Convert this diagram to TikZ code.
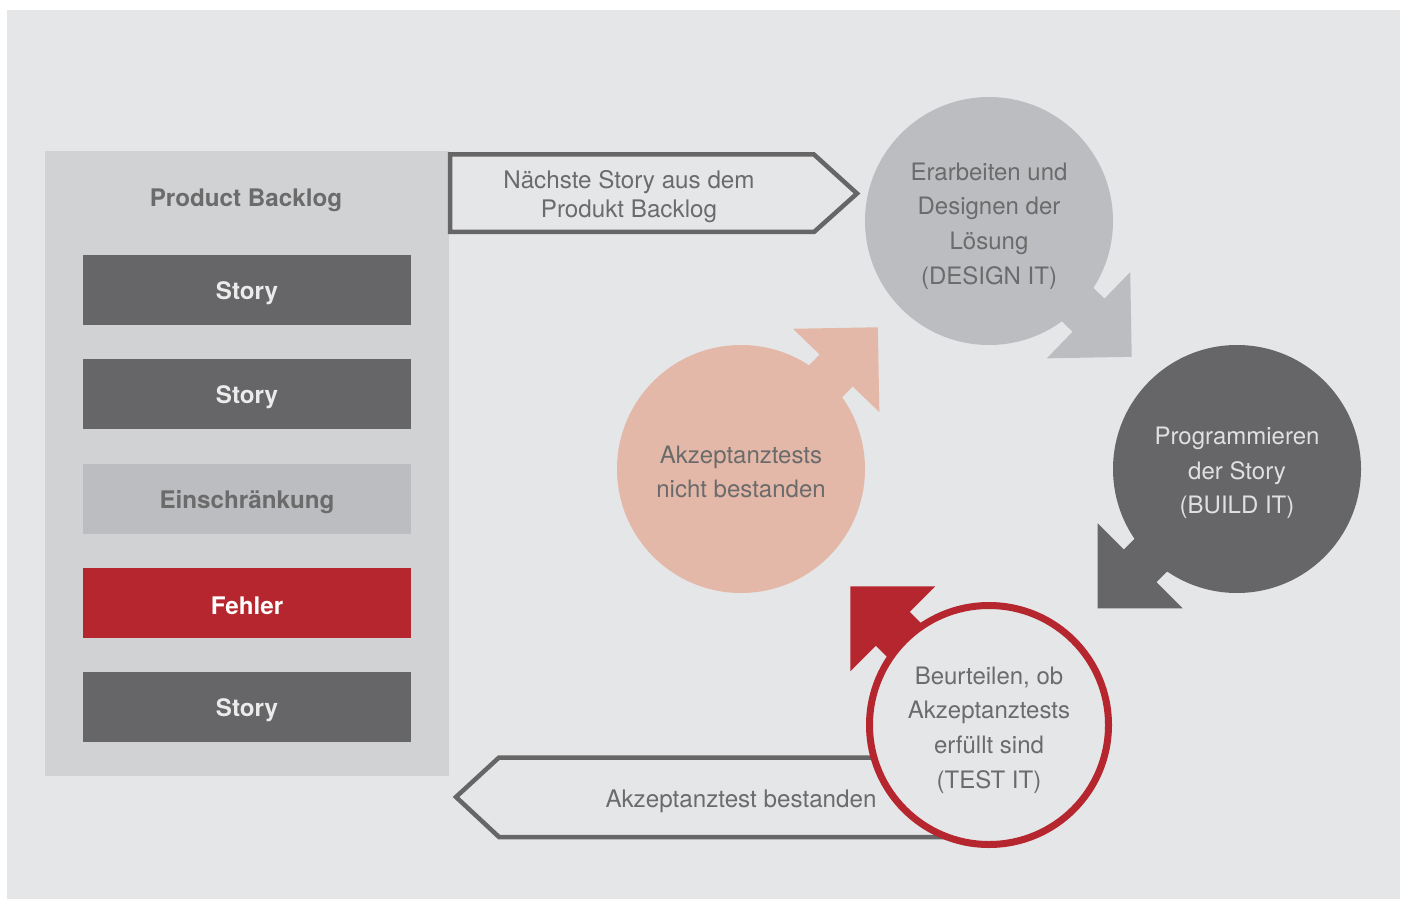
\documentclass[tikz,border=0pt]{standalone}
\usepackage{fontspec}
\setmainfont{TeX Gyre Heros}
\definecolor{bgc}{HTML}{E5E6E8}
\definecolor{panelc}{HTML}{D1D2D4}
\definecolor{darkc}{HTML}{666668}
\definecolor{lightc}{HTML}{BCBDC0}
\definecolor{redc}{HTML}{B5262E}
\definecolor{pinkc}{HTML}{E4B8A8}
\definecolor{txtc}{HTML}{6B6B6B}
\definecolor{outc}{HTML}{666666}
\newcommand{\armout}[3]{\fill[#3,shift={#1},rotate=#2] (0,-23) rectangle (137,23) (137,-60) -- (197,0) -- (137,60) -- cycle;}
\begin{document}
\begin{tikzpicture}[x=1pt,y=-1pt,
  box/.style={minimum width=328pt,minimum height=70pt,inner sep=0pt,font=\fontsize{24.2}{28}\selectfont\bfseries},
  boxtxt/.style={font=\fontsize{24.2}{28}\selectfont\bfseries,inner sep=0pt},
  bubble/.style={circle,minimum size=248pt,inner sep=0pt},
  bubtxt/.style={align=center,font=\fontsize{24}{34.7}\selectfont,inner sep=0pt},
  flow/.style={draw=outc,line width=4.5pt,fill=bgc,line join=miter}]
\useasboundingbox (0,0) rectangle (1405,901);
\fill[white] (0,0) rectangle (1405,901);
\fill[bgc] (7,10) rectangle (1400,899);
% backlog panel
\node[fill=panelc,minimum width=404pt,minimum height=625pt,inner sep=0pt] (backlog) at (247,463.5) {};
\node[boxtxt,text=txtc] (pbtitle) at (246,200) {Product Backlog};
\node[box,fill=darkc] (s1) at (247,290) {};
\node[box,fill=darkc] (s2) at (247,394) {};
\node[box,fill=lightc] (e1) at (247,499) {};
\node[box,fill=redc] (f1) at (247,602.5) {};
\node[box,fill=darkc] (s3) at (247,707) {};
\node[boxtxt,text=white!92!black] (s1t) at ([yshift=-3pt]s1.center) {Story};
\node[boxtxt,text=white!92!black] (s2t) at ([yshift=-3pt]s2.center) {Story};
\node[boxtxt,text=txtc] (e1t) at ([yshift=-3pt]e1.center) {Einschränkung};
\node[boxtxt,text=white] (f1t) at ([yshift=-3pt]f1.center) {Fehler};
\node[boxtxt,text=white!92!black] (s3t) at ([yshift=-3pt]s3.center) {Story};
% top flow arrow
\draw[flow] (450,154.5) coordinate (ta) -- (814,154.5) -- (857,193.5) -- (814,232) -- (450,232) -- cycle;
\node[text=txtc,align=center,font=\fontsize{24.2}{29}\selectfont,inner sep=0pt] (nextlbl) at (629,197) {Nächste Story aus dem\\Produkt Backlog};
% bottom flow arrow
\draw[flow] (960,757.5) -- (499,757.5) -- (456,797) -- (499,837) -- (960,837);
\node[text=txtc,font=\fontsize{24.2}{29}\selectfont,inner sep=0pt] (passlbl) at (741,801) {Akzeptanztest bestanden};
% design
\armout{(990,220)}{-44}{lightc}
\node[bubble,fill=lightc] (design) at (989,221) {};
\node[bubtxt,text=txtc] (designt) at (989,226) {Erarbeiten und\\Designen der\\Lösung\\(DESIGN IT)};
% build
\armout{(1237,469)}{-135}{darkc}
\node[bubble,fill=darkc] (build) at (1237,469) {};
\node[bubtxt,text=white!88!black] (buildt) at (1237,473) {Programmieren\\der Story\\(BUILD IT)};
% failed
\armout{(741,469)}{46}{pinkc}
\node[bubble,fill=pinkc] (fail) at (741,469) {};
\node[bubtxt,text=txtc] (failt) at (741,472) {Akzeptanztests\\nicht bestanden};
% test
\fill[redc,shift={(989,725)},rotate=135] (0,-24) rectangle (136,24) (136,-60) -- (196,0) -- (136,60) -- cycle;
\node[bubble,minimum size=239pt,draw=redc,line width=7pt,fill=bgc] (test) at (989,725) {};
\node[bubtxt,text=txtc] (testt) at (989,730) {Beurteilen, ob\\Akzeptanztests\\erfüllt sind\\(TEST IT)};
\end{tikzpicture}
\end{document}
